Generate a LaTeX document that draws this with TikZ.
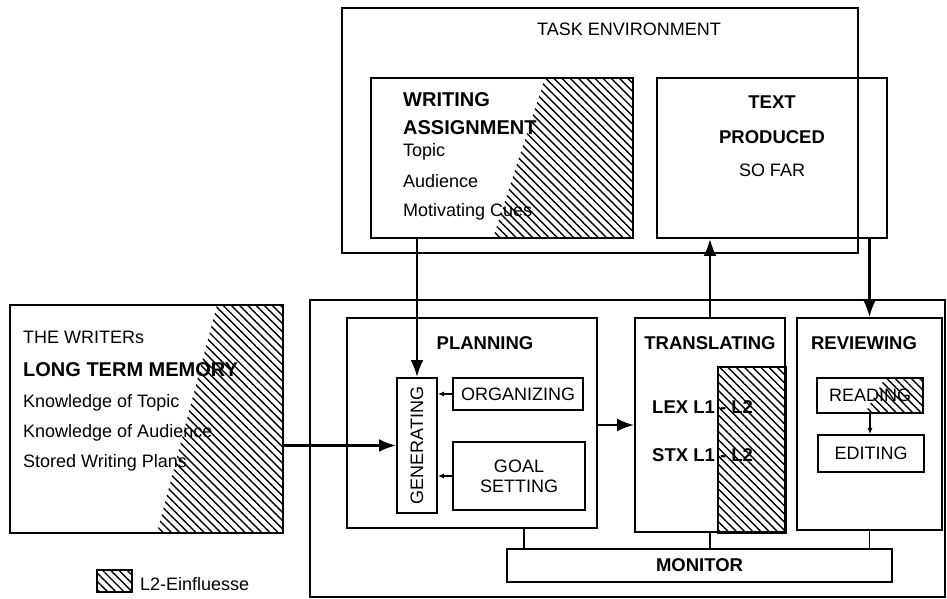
\documentclass[tikz,border=0pt]{standalone}
\usepackage{fontspec}
\setmainfont{Liberation Sans}
\usetikzlibrary{arrows.meta, patterns.meta, calc, positioning}
\tikzset{
  box/.style={draw, rectangle, line width=1.9pt, inner sep=0pt},
  bigbox/.style={draw, rectangle, line width=2.8pt, inner sep=0pt},
  txt/.style={font=\fontsize{18}{20}\selectfont, inner sep=0pt},
  hd/.style={font=\fontsize{18.5}{21}\selectfont\bfseries, inner sep=0pt},
  bighd/.style={font=\fontsize{20}{22}\selectfont\bfseries, inner sep=0pt},
  hatch/.style={pattern={Lines[angle=-45, distance=5.8pt, line width=1.4pt]}},
  arr/.style={line width=2.4pt, -{Latex[length=17pt, width=13pt]}},
  smallarr/.style={line width=1.4pt, -{Latex[length=6pt, width=5pt]}},
}

\begin{document}
\begin{tikzpicture}[x=1pt, y=1pt]
 \useasboundingbox (0,0) rectangle (947,599);
 % task environment
 \node[bigbox, minimum width=516pt, minimum height=245pt] (task) at (600,468.5) {};
 \node[txt, anchor=west] (tasktitle) at (537,570) {TASK ENVIRONMENT};
 \node[box, minimum width=262pt, minimum height=160pt] (assign) at (502,441) {};
 \fill[hatch] (545,521) -- (assign.north east) -- (assign.south east) -- (493,361) -- cycle;
 \node[bighd, anchor=west] (wr) at (403,499) {WRITING};
 \node[bighd, anchor=west] (as) at (403,471) {ASSIGNMENT};
 \node[txt, anchor=west] (topic) at (403,447) {Topic};
 \node[txt, anchor=west] (aud) at (403,418) {Audience};
 \node[txt, anchor=west] (cues) at (403,387) {Motivating Cues};
 \node[box, minimum width=230pt, minimum height=160pt] (produced) at (772,441) {};
 \node[hd] (text) at (772,497) {TEXT};
 \node[hd] (prod) at (772,462) {PRODUCED};
 \node[txt] (sofar) at (772,429) {SO FAR};

 % the writer
 \node[bigbox, minimum width=635pt, minimum height=297pt] (writer) at (627.5,150.5) {};
 \node[box, minimum width=273pt, minimum height=228pt] (ltm) at (146.5,180) {};
 \fill[hatch] (217,294) -- (ltm.north east) -- (ltm.south east) -- (157,66) -- cycle;
 \node[txt, anchor=west] (thewr) at (23,262) {THE WRITERs};
 \node[bighd, anchor=west] (ltmt) at (23,229) {LONG TERM MEMORY};
 \node[txt, anchor=west] (ktop) at (23,196) {Knowledge of Topic};
 \node[txt, anchor=west] (kaud) at (23,166) {Knowledge of Audience};
 \node[txt, anchor=west] (plans) at (23,136) {Stored Writing Plans};

 \node[box, minimum width=250pt, minimum height=210pt] (plan) at (472,176) {};
 \node[hd] (plant) at (485,256) {PLANNING};
 \node[box, minimum width=40pt, minimum height=135pt] (gen) at (417,153.5) {};
 \node[txt, rotate=90] (gent) at (gen) {GENERATING};
 \node[box, txt, minimum width=130pt, minimum height=32pt] (org) at (518,205) {ORGANIZING};
 \node[box, txt, minimum width=132pt, minimum height=68pt, align=center] (goal) at (519,123) {GOAL\\SETTING};

 \node[box, minimum width=150pt, minimum height=214pt] (trans) at (710,174) {};
 \filldraw[hatch, line width=1.9pt] (718,232) rectangle (trans.south east);
 \node[hd] (transt) at (710,256) {TRANSLATING};
 \node[hd, anchor=west] (lex) at (652,192) {LEX L1 - L2};
 \node[hd, anchor=west] (stx) at (652,144) {STX L1 - L2};

 \node[box, minimum width=145pt, minimum height=212pt] (rev) at (869.5,175) {};
 \node[hd] (revt) at (864,256) {REVIEWING};
 \node[box, minimum width=106pt, minimum height=35pt] (read) at (870,203.5) {};
 \fill[hatch] (885,221) -- (read.north east) -- (read.south east) -- (865,186) -- cycle;
 \node[txt] (readt) at (read) {READING};
 \node[box, txt, minimum width=106pt, minimum height=37pt] (edit) at (871,145.5) {EDITING};

 \node[box, hd, minimum width=385pt, minimum height=33pt] (mon) at (699.5,33.5) {MONITOR};
 \coordinate (planlink) at ([xshift=52pt]plan.south);
 \draw[line width=1.9pt] (planlink) -- (planlink |- mon.north);
 \draw[line width=1.9pt] (trans.south) -- (trans.south |- mon.north);
 \draw[line width=1.9pt] (rev.south) -- (rev.south |- mon.north);

 % arrows
 \draw[arr] (assign.south -| gen.north) -- (gen.north);
 \draw[arr] (ltm.east |- gen.west) -- (gen.west);
 \draw[arr] (plan.east |- trans.west) -- (trans.west);
 \draw[arr] (trans.north) -- (trans.north |- produced.south);
 \draw[arr] (rev.north |- produced.south) -- (rev.north);
 \draw[smallarr] (org.west) -- (org.west -| gen.east);
 \draw[smallarr] (goal.west) -- (goal.west -| gen.east);
 \draw[smallarr] (read.south) -- (read.south |- edit.north);

 % legend
 \node[draw, line width=1.4pt, hatch, minimum width=35pt, minimum height=22pt, inner sep=0pt] (legbox) at (114.5,18) {};
 \node[txt, anchor=west] (legt) at (140,15) {L2-Einfluesse};
\end{tikzpicture}
\end{document}
